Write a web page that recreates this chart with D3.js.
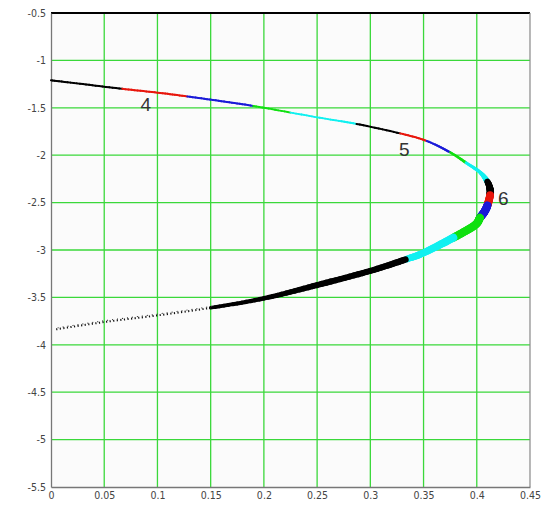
<!DOCTYPE html>
<html>
<head>
<meta charset="utf-8">
<script src="https://cdn.jsdelivr.net/npm/d3@7"></script>
<style>
  html, body { margin: 0; padding: 0; background: #ffffff; }
  svg { display: block; }
  .tick text { font-family: "Liberation Sans Narrow", "DejaVu Sans Condensed", "Liberation Sans", sans-serif; }
</style>
</head>
<body>
<svg id="chart" width="543" height="509"></svg>
<script>
// Tick values for both axes
const xTicks = [0, 0.05, 0.1, 0.15, 0.2, 0.25, 0.3, 0.35, 0.4, 0.45];
const yTicks = [-0.5, -1, -1.5, -2, -2.5, -3, -3.5, -4, -4.5, -5, -5.5];

// Curve samples, traced from the upper branch round the nose to the lower branch
const curveX = [0.000, 0.030, 0.067, 0.100, 0.128, 0.160, 0.190, 0.225, 0.255, 0.287, 0.328, 0.353,
                0.375, 0.390, 0.403, 0.410, 0.4125, 0.4125, 0.410, 0.407, 0.403, 0.398, 0.378, 0.350,
                0.333, 0.300, 0.250, 0.200, 0.150, 0.100, 0.050, 0.003];
const curveY = [-1.21, -1.25, -1.30, -1.34, -1.38, -1.43, -1.48, -1.55, -1.61, -1.67, -1.77, -1.85,
                -1.97, -2.08, -2.18, -2.28, -2.36, -2.42, -2.53, -2.60, -2.66, -2.74, -2.87, -3.03,
                -3.10, -3.22, -3.37, -3.51, -3.61, -3.69, -3.76, -3.84];
// Colour of the piece that starts at each sample
const curveColor = ["black", "black", "red", "red", "blue", "blue", "green", "cyan", "cyan", "black", "red", "blue",
                    "green", "cyan", "cyan", "black", "black", "red", "blue", "blue", "green", "green", "cyan", "cyan",
                    "black", "black", "black", "black", "black", "black", "black", "black"];
// Stroke width at each sample
const curveWidth = [2, 2, 2, 2, 2, 2, 2, 1.8, 1.8, 2, 2, 2,
                    2.3, 2.8, 3.5, 6, 7, 7.5, 8, 8, 8, 8, 8, 7,
                    6.5, 6, 6, 4.5, 3.5, 3, 2.5, 2];

// Branch labels
const labelText = ["4", "5", "6"];
const labelX = [0.089, 0.332, 0.425];
const labelY = [-1.47, -1.94, -2.46];

const palette = { black: "#000000", red: "#e8160c", blue: "#1a1ad8", green: "#10e010", cyan: "#10f0f0" };

const svg = d3.select("#chart");
const margin = { left: 51, top: 13, right: 13, bottom: 22 };
const W = 543, H = 509;

const x = d3.scaleLinear().domain([0, 0.45]).range([margin.left, W - margin.right]);
const y = d3.scaleLinear().domain([-0.5, -5.5]).range([margin.top, H - margin.bottom]);

// plot background
svg.append("rect")
  .attr("x", x(0)).attr("y", y(-0.5))
  .attr("width", x(0.45) - x(0)).attr("height", y(-5.5) - y(-0.5))
  .attr("fill", "#fbfbfb");

// grid
const grid = svg.append("g").attr("stroke", "#3ad83a").attr("stroke-width", 1.3);
grid.selectAll("line.gx").data(xTicks.slice(1, -1)).join("line")
  .attr("x1", d => x(d)).attr("x2", d => x(d))
  .attr("y1", y(-0.5)).attr("y2", y(-5.5));
grid.selectAll("line.gy").data(yTicks.slice(1, -1)).join("line")
  .attr("x1", x(0)).attr("x2", x(0.45))
  .attr("y1", d => y(d)).attr("y2", d => y(d));

// frame
svg.append("line").attr("x1", x(0)).attr("x2", x(0.45)).attr("y1", y(-0.5)).attr("y2", y(-0.5))
  .attr("stroke", "#000").attr("stroke-width", 2);
svg.append("line").attr("x1", x(0.45)).attr("x2", x(0.45)).attr("y1", y(-0.5)).attr("y2", y(-5.5))
  .attr("stroke", "#888").attr("stroke-width", 1.2);

// axes
const xAxis = d3.axisBottom(x).tickValues(xTicks).tickSize(0).tickPadding(5)
  .tickFormat(d => d3.format("~g")(d));
const yAxis = d3.axisLeft(y).tickValues(yTicks).tickSize(0).tickPadding(5)
  .tickFormat(d => d3.format("~g")(d).replace("\u2212", "-"));

const gx = svg.append("g").attr("transform", `translate(0,${y(-5.5)})`).call(xAxis);
const gy = svg.append("g").attr("transform", `translate(${x(0)},0)`).call(yAxis);
[gx, gy].forEach(g => {
  g.select(".domain").attr("stroke", "#777").attr("stroke-width", 1.3);
  g.selectAll(".tick text").attr("font-size", 10.5).attr("fill", "#444");
});

// Smooth the traced samples in screen space (Catmull-Rom) so the curve has no corners;
// each short piece keeps the colour of the sample it starts from.
const P = curveX.map((cx, i) => [x(cx), y(curveY[i])]);
const n = P.length;
const steps = 12;
const pieces = [];
for (let i = 0; i < n - 1; i++) {
  const p0 = P[Math.max(i - 1, 0)], p1 = P[i], p2 = P[i + 1], p3 = P[Math.min(i + 2, n - 1)];
  const at = t => {
    const t2 = t * t, t3 = t2 * t;
    return [0, 1].map(k => 0.5 * ((2 * p1[k]) + (-p0[k] + p2[k]) * t +
      (2 * p0[k] - 5 * p1[k] + 4 * p2[k] - p3[k]) * t2 +
      (-p0[k] + 3 * p1[k] - 3 * p2[k] + p3[k]) * t3));
  };
  for (let s = 0; s < steps; s++) {
    const a = at(s / steps), b = at((s + 1) / steps);
    const w = curveWidth[i] + (curveWidth[i + 1] - curveWidth[i]) * (s + 0.5) / steps;
    pieces.push({ a, b, w, color: curveColor[i], sparse: curveX[i] <= 0.15 && curveY[i] < -3 });
  }
}

const solid = pieces.filter(d => !d.sparse);
const sparse = pieces.filter(d => d.sparse);

svg.append("g").attr("stroke-linecap", "round").selectAll("line").data(solid).join("line")
  .attr("x1", d => d.a[0]).attr("y1", d => d.a[1])
  .attr("x2", d => d.b[0]).attr("y2", d => d.b[1])
  .attr("stroke", d => palette[d.color])
  .attr("stroke-width", d => d.w);

// the thin tail of the lower branch is drawn as a loose dotted trail
const tail = d3.line().x(d => d[0]).y(d => d[1]);
const tailPts = [sparse[0].a].concat(sparse.map(d => d.b));
svg.append("path").attr("d", tail(tailPts))
  .attr("fill", "none").attr("stroke", "#111").attr("stroke-width", 2)
  .attr("stroke-dasharray", "1.2,2.4");
svg.append("path").attr("d", tail(tailPts.map(p => [p[0] + 1.5, p[1] - 1.5])))
  .attr("fill", "none").attr("stroke", "#333").attr("stroke-width", 1.1)
  .attr("stroke-dasharray", "1,4");

// labels
svg.append("g").selectAll("text").data(labelText).join("text")
  .attr("x", (d, i) => x(labelX[i])).attr("y", (d, i) => y(labelY[i]))
  .attr("text-anchor", "middle").attr("dominant-baseline", "central")
  .attr("font-family", "Liberation Sans, Arial, sans-serif").attr("font-size", 19)
  .attr("fill", "#333")
  .text(d => d);
</script>
</body>
</html>
